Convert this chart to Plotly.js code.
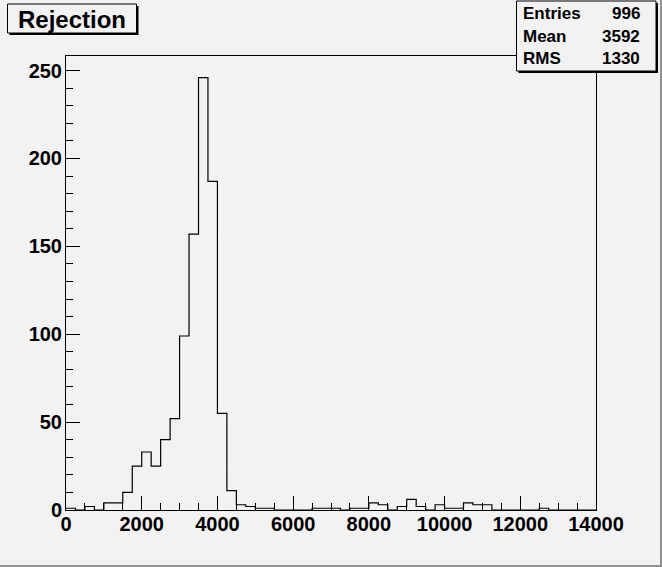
<!DOCTYPE html>
<html>
<head>
<meta charset="utf-8">
<script src="https://cdn.plot.ly/plotly-3.0.1.min.js"></script>
<style>
html,body{margin:0;padding:0;background:#f2f2f2;}
#plot{width:662px;height:567px;}
</style>
</head>
<body>
<div id="plot"></div>
<script>
// ---- data ----
const histTitle = "Rejection";
const binLow = 0;
const binWidth = 250;
const counts = [
  1, 0, 2, 0, 4, 4, 10, 25, 33, 25,
  40, 52, 99, 157, 246, 187, 55, 11, 3, 2,
  1, 1, 0, 0, 0, 0, 1, 1, 1, 0,
  1, 1, 4, 3, 0, 2, 6, 2, 0, 3,
  1, 1, 4, 3, 3, 0, 0, 0, 0, 0,
  1, 0, 0, 0, 0, 0
];
const statLabels = ["Entries", "Mean", "RMS"];
const statValues = ["996", "3592", "1330"];
const xRange = [0, 14000];
const yRange = [0, 258.3];

// ---- build step outline from bin edges ----
const edges = counts.map((c, i) => binLow + i * binWidth);
edges.push(binLow + counts.length * binWidth);
const stepY = counts.concat([counts[counts.length - 1]]);

// ---- pixel helpers for decorations ----
const L = 66, R = 596, T = 56, B = 510;
const px = x => (x - L) / (R - L);
const py = y => (B - y) / (B - T);
const bg = "#f2f2f2";
const fontFam = "Liberation Sans, Arial, Helvetica, sans-serif";

const shapes = [
  // title box shadow + box
  {type:"rect", xref:"paper", yref:"paper", x0:px(9.5), x1:px(138.5), y0:py(6), y1:py(35),
   fillcolor:"#000", line:{width:0}, layer:"above"},
  {type:"rect", xref:"paper", yref:"paper", x0:px(7.5), x1:px(136.5), y0:py(4), y1:py(33),
   fillcolor:bg, line:{color:"#000", width:1}, layer:"above"},
  // stats box shadow + box
  {type:"rect", xref:"paper", yref:"paper", x0:px(518.5), x1:px(658), y0:py(3), y1:py(73),
   fillcolor:"#000", line:{width:0}, layer:"above"},
  {type:"rect", xref:"paper", yref:"paper", x0:px(516.5), x1:px(656), y0:py(1), y1:py(71),
   fillcolor:bg, line:{color:"#000", width:1}, layer:"above"},
  // canvas border (right / bottom)
  {type:"rect", xref:"paper", yref:"paper", x0:px(660), x1:px(662), y0:py(0), y1:py(567),
   fillcolor:"#909090", line:{width:0}, layer:"above"},
  {type:"rect", xref:"paper", yref:"paper", x0:px(0), x1:px(662), y0:py(565), y1:py(567),
   fillcolor:"#909090", line:{width:0}, layer:"above"}
];

const annotations = [
  {xref:"paper", yref:"paper", x:px(72), y:py(19.5), text:histTitle, showarrow:false,
   xanchor:"center", yanchor:"middle",
   font:{family:fontFam, size:24, color:"#000", weight:"bold"}}
];
const rowY = [13.5, 36, 58.5];
statLabels.forEach((lab, i) => {
  annotations.push({xref:"paper", yref:"paper", x:px(521), y:py(rowY[i]), text:lab,
    showarrow:false, xanchor:"left", yanchor:"middle",
    font:{family:fontFam, size:17, color:"#000", weight:"bold"}});
  annotations.push({xref:"paper", yref:"paper", x:px(642), y:py(rowY[i]), text:statValues[i],
    showarrow:false, xanchor:"right", yanchor:"middle",
    font:{family:fontFam, size:17, color:"#000", weight:"bold"}});
});

const trace = {
  type:"scatter", mode:"lines", x:edges, y:stepY,
  line:{shape:"hv", color:"#000", width:1.2},
  hoverinfo:"skip", showlegend:false, cliponaxis:true
};

const axisCommon = {
  showgrid:false, zeroline:false, showline:true, mirror:true,
  linecolor:"#000", linewidth:1, ticks:"inside", tickcolor:"#000",
  tickwidth:1, ticklen:14,
  tickfont:{family:fontFam, size:20, color:"#000", weight:"bold"}
};

const layout = {
  width:662, height:567,
  margin:{l:L, r:662 - R, t:T, b:567 - B, pad:0},
  paper_bgcolor:bg, plot_bgcolor:bg,
  showlegend:false,
  xaxis: Object.assign({}, axisCommon, {
    range:xRange, tickmode:"linear", tick0:0, dtick:2000, tickformat:"d",
    minor:{ticks:"inside", dtick:500, tick0:0, ticklen:7, tickcolor:"#000", tickwidth:1, showgrid:false},
    ticklabelstandoff:-4
  }),
  yaxis: Object.assign({}, axisCommon, {
    range:yRange, tickmode:"linear", tick0:0, dtick:50, tickformat:"d",
    minor:{ticks:"inside", dtick:10, tick0:0, ticklen:7, tickcolor:"#000", tickwidth:1, showgrid:false},
    ticklabelstandoff:-1
  }),
  shapes:shapes,
  annotations:annotations
};

Plotly.newPlot("plot", [trace], layout, {staticPlot:true, displayModeBar:false});
</script>
</body>
</html>
